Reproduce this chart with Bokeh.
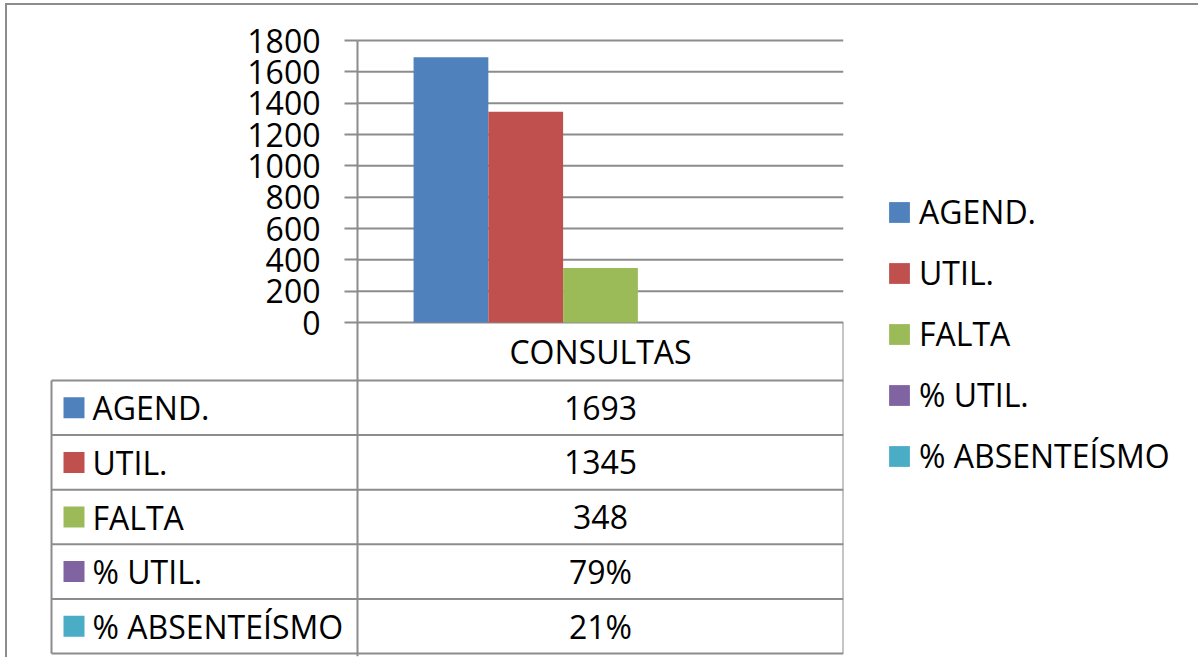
from bokeh.plotting import figure
from bokeh.models import Range1d, LinearAxis, FixedTicker, Legend, LegendItem
from bokeh.core.properties import value
from bokeh.embed import file_html
from bokeh.resources import INLINE

# ---------------- data ----------------
category = "CONSULTAS"
series = ["AGEND.", "UTIL.", "FALTA", "% UTIL.", "% ABSENTEÍSMO"]
values = [1693, 1345, 348, 0.79, 0.21]
table_text = ["1693", "1345", "348", "79%", "21%"]
colors = ["#4F81BD", "#C0504D", "#9BBB59", "#8064A2", "#4BACC6"]
y_ticks = [0, 200, 400, 600, 800, 1000, 1200, 1400, 1600, 1800]

# ---------------- layout (page pixels) ----------------
FONT = "Open Sans"
GRID = "#8c8c8c"
OFF_L, OFF_T = 7, 5                 # figure origin on the page
PAGE_W, PAGE_H = 1196, 659
FRAME_L, FRAME_R, FRAME_T, FRAME_B = 49, 843, 20, 656
AXIS_X = 357          # y axis / category left edge
ZERO_Y, TOP_Y = 322, 40
TABLE_L, HEADER_B, TABLE_B = 51, 380, 653

cat_px = FRAME_R - AXIS_X
x_start = (FRAME_L - AXIS_X) / cat_px
x_tl = (TABLE_L - AXIS_X) / cat_px
ppv = (ZERO_Y - TOP_Y) / max(y_ticks)
y_range = Range1d(-(FRAME_B - ZERO_Y) / ppv, (ZERO_Y - FRAME_T) / ppv)
row_h = (TABLE_B - HEADER_B) / len(series)
t_range = Range1d(-(FRAME_B - TABLE_B) / row_h, (TABLE_B - FRAME_T) / row_h)
header_top = (TABLE_B - ZERO_Y) / row_h

p = figure(frame_width=FRAME_R - FRAME_L, frame_height=FRAME_B - FRAME_T,
           x_range=Range1d(x_start, 1.0), y_range=y_range,
           output_backend="svg", toolbar_location=None,
           x_axis_location=None, y_axis_location=None,
           min_border_left=FRAME_L - OFF_L, min_border_right=PAGE_W - FRAME_R,
           min_border_top=FRAME_T - OFF_T, min_border_bottom=PAGE_H - FRAME_B,
           outline_line_color=None, background_fill_color="white",
           border_fill_color="white")
p.margin = (OFF_T, 0, 0, OFF_L)
p.styles = {"box-shadow": "-2px -2px 0 0 #8c8c8c"}
p.extra_y_ranges = {"table": t_range}
for g in p.grid:
    g.visible = False

yaxis = LinearAxis(ticker=FixedTicker(ticks=y_ticks), fixed_location=0,
                   bounds=(y_range.start, max(y_ticks)),
                   axis_line_color=GRID, axis_line_width=2,
                   major_tick_line_color=GRID, major_tick_line_width=2,
                   major_tick_in=0, major_tick_out=13,
                   minor_tick_line_color=None, major_label_standoff=24,
                   major_label_text_font=FONT, major_label_text_font_size="32px",
                   major_label_text_color="black")
p.add_layout(yaxis, "left")

# horizontal gridlines across the category
p.segment(x0=0, x1=1, y0=y_ticks, y1=y_ticks, line_color=GRID, line_width=2,
          level="underlay")

# bars
n = len(series)
bw = 1.0 / (n + 1.5)
renderers = []
for i, (s, v, c) in enumerate(zip(series, values, colors)):
    xc = 0.5 + (i - (n - 1) / 2) * bw
    r = p.vbar(x=[xc], top=[v], bottom=0, width=bw, fill_color=c, line_color=None)
    renderers.append(r)

# data table
rows = list(range(n + 1))
p.segment(x0=x_tl, x1=1, y0=rows, y1=rows, line_color=GRID, line_width=2,
          y_range_name="table")
p.segment(x0=[x_tl, 1], x1=[x_tl, 1], y0=[0, 0], y1=[n, header_top],
          line_color=GRID, line_width=2, y_range_name="table")
row_c = [n - i - 0.5 for i in range(n)]
p.text(x=[0.5], y=[(n + header_top) / 2], text=[category], text_align="center",
       text_baseline="middle", text_font=value(FONT), text_font_size="32px",
       text_color="black", y_range_name="table")
p.text(x=[0.5] * n, y=row_c, text=table_text, text_align="center",
       text_baseline="middle", text_font=value(FONT), text_font_size="32px",
       text_color="black", y_range_name="table")
p.text(x=[x_tl] * n, y=row_c, text=series, text_align="left", x_offset=41,
       text_baseline="middle", text_font=value(FONT), text_font_size="32px",
       text_color="black", y_range_name="table")
p.scatter(x=[x_tl + 22.5 / cat_px] * n, y=row_c, marker="square", size=21,
          fill_color=colors, line_color=None, y_range_name="table")

legend = Legend(items=[LegendItem(label=s, renderers=[r]) for s, r in zip(series, renderers)],
                location=(43, 179), orientation="vertical",
                glyph_width=26, glyph_height=26, label_standoff=7, spacing=18,
                label_text_font=FONT, label_text_font_size="32px",
                label_text_color="black", label_height=21,
                border_line_color=None, background_fill_alpha=0,
                margin=43, padding=10)
p.add_layout(legend, "right")

open("out.html", "w").write(file_html(p, INLINE))
